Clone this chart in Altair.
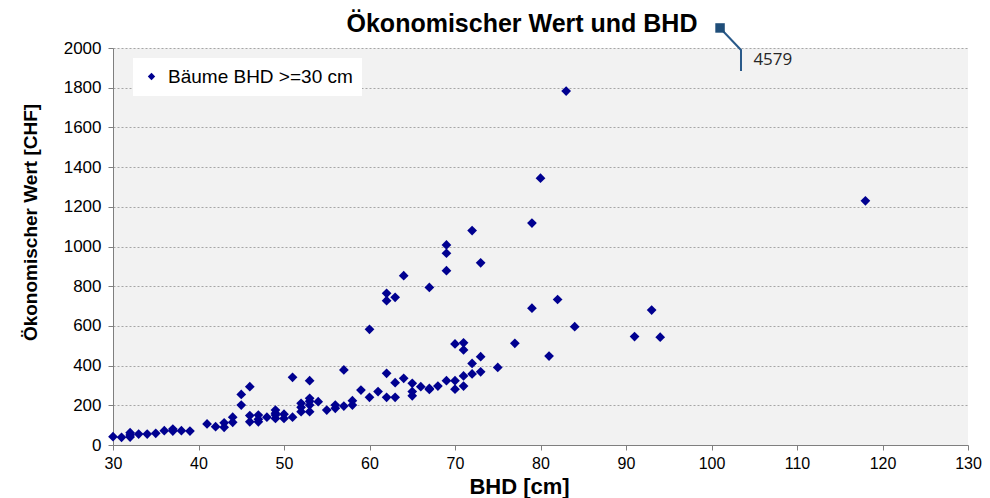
import altair as alt
import pandas as pd

# ---- data ----
bhd = [30, 31, 32, 32, 32, 33, 34, 35, 36, 37, 37, 38, 39,
       41, 42, 43, 43, 44, 44, 45, 45, 46, 46, 46, 47, 47, 47, 48,
       49, 49, 49, 49, 50, 50, 51, 51, 52, 52, 52, 53, 53, 53, 53, 53,
       54, 55, 56, 56, 57, 57, 58, 58, 59, 60, 60, 61,
       62, 62, 62, 62, 63, 63, 63, 64, 64, 65, 65, 65, 66, 67, 67, 67, 68,
       69, 69, 69, 69, 70, 70, 70, 71, 71, 71, 71, 72, 72, 72, 73, 73, 73,
       75, 77, 79, 79, 80, 81, 82, 83, 84, 91, 93, 94, 118]
wert = [42, 39, 62, 50, 40, 55, 55, 59, 72, 80, 70, 72, 70,
        106, 92, 112, 89, 140, 114, 255, 201, 294, 148, 117, 151, 117, 130, 140,
        176, 151, 134, 160, 155, 134, 341, 140, 210, 190, 168, 324, 235, 220, 201, 168,
        218, 176, 201, 185, 378, 196, 223, 201, 277, 583, 240, 269,
        764, 727, 361, 240, 744, 314, 240, 853, 336, 311, 269, 248, 294, 794, 285, 280, 297,
        1008, 966, 878, 324, 509, 324, 281, 515, 479, 348, 297, 1080, 411, 358, 918, 445, 369,
        391, 512, 1118, 689, 1344, 448, 733, 1783, 596, 546, 680, 543, 1230]
serie_name = "Bäume BHD >=30 cm"
chart_title = ["Ökonomischer Wert und BHD"]

x_ticks = [30, 40, 50, 60, 70, 80, 90, 100, 110, 120, 130]
y_ticks = [0, 200, 400, 600, 800, 1000, 1200, 1400, 1600, 1800, 2000]

# off-scale value shown as a callout
callout_label = ["4579"]
callout_marker_x = [101.0]
callout_marker_y = [2101]
leader_x = [101.0, 103.45, 103.45]
leader_y = [2101, 1990, 1884]
label_x = [104.9]
label_y = [1940]

df = pd.DataFrame({"BHD": bhd, "Wert": wert, "Serie": [serie_name] * len(bhd)})
df_marker = pd.DataFrame({"BHD": callout_marker_x, "Wert": callout_marker_y})
df_leader = pd.DataFrame({"BHD": leader_x, "Wert": leader_y, "o": list(range(len(leader_x)))})
df_label = pd.DataFrame({"BHD": label_x, "Wert": label_y, "t": callout_label})
df_title = pd.DataFrame({"t": chart_title})

FONT = "Liberation Sans"

xscale = alt.Scale(domain=[30, 130], nice=False, zero=False)
yscale = alt.Scale(domain=[0, 2000], nice=False)

x_axis = alt.Axis(values=x_ticks, title="BHD [cm]", grid=False, format="d",
                  labelFlush=False, labelOverlap=False,
                  titleX=406, titleY=41, titleBaseline="middle",
                  titleFontSize=22, labelFontSize=16, labelPadding=5)
y_axis = alt.Axis(values=y_ticks, title="Ökonomischer Wert [CHF]", grid=True,
                  format="d", labelFlush=False, labelOverlap=False,
                  titleX=-83, titleY=174, titleBaseline="middle", titleAlign="center",
                  titleFontSize=19, labelFontSize=17, labelPadding=7)

X = alt.X("BHD:Q", scale=xscale, axis=x_axis)
Y = alt.Y("Wert:Q", scale=yscale, axis=y_axis)

points = alt.Chart(df).mark_point(shape="diamond", filled=True, size=95, opacity=1).encode(
    x=X, y=Y,
    color=alt.Color("Serie:N", scale=alt.Scale(range=["#000090"]),
                    legend=alt.Legend(title=None, orient="none", legendX=20, legendY=10,
                                      fillColor="white", padding=9,
                                      symbolType="diamond", symbolSize=55,
                                      symbolStrokeWidth=0, labelLimit=0,
                                      labelFontSize=19, labelFont=FONT,
                                      labelColor="black", labelOffset=7)),
)

leader = alt.Chart(df_leader).mark_line(color="#2a5a8a", strokeWidth=2).encode(
    x=X, y=Y, order="o:Q")

marker = alt.Chart(df_marker).mark_point(shape="square", filled=True, size=90,
                                         color="#1f4e79", opacity=1).encode(x=X, y=Y)

label = alt.Chart(df_label).mark_text(align="left", baseline="middle", font="Open Sans",
                                       fontSize=17, color="#262626").encode(
    x=X, y=Y, text="t:N")

title = alt.Chart(df_title).mark_text(align="center", baseline="middle", font=FONT,
                                       fontSize=25, fontWeight="bold", color="black").encode(
    x=alt.value(409), y=alt.value(-24), text="t:N")

chart = alt.layer(points, leader, marker, label, title).properties(
    width=855, height=397,
    autosize="none",
    padding={"left": 105, "top": 40, "right": 14, "bottom": 53},
).configure_view(fill="#f2f2f2", stroke=None).configure_axis(
    labelFont=FONT, titleFont=FONT, labelColor="black", titleColor="black",
    titleFontWeight="bold", domainColor="#7f7f7f", tickColor="#7f7f7f",
    tickSize=5, gridColor="#a6a6a6", gridDash=[2, 2], gridWidth=1,
)

chart.save("out.html", embed_options={"renderer": "svg", "actions": False})
